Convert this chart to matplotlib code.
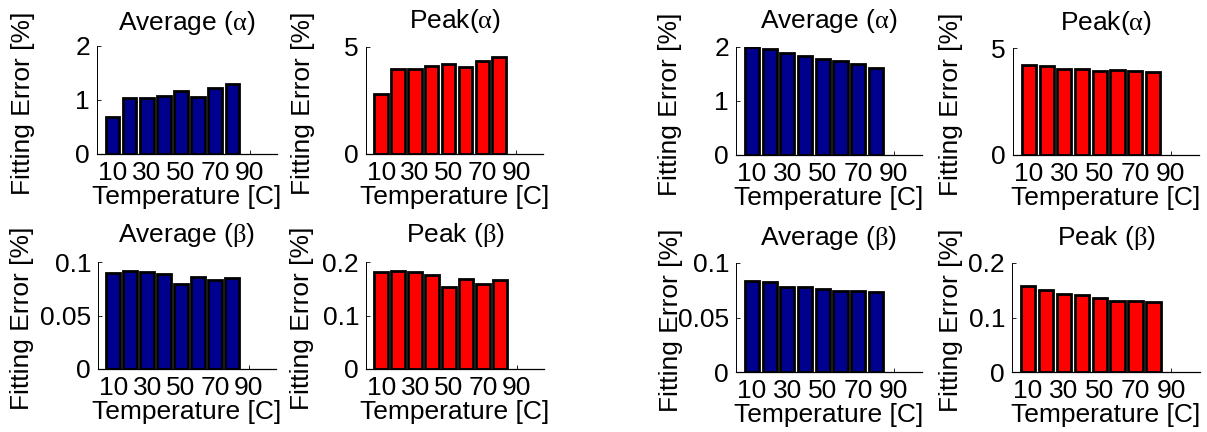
import matplotlib
matplotlib.use('Agg')
import matplotlib.pyplot as plt

# Temperatures of the bars and x tick labels
temperatures = [10, 20, 30, 40, 50, 60, 70, 80]
xtick_values = [10, 30, 50, 70, 90]

# Left group of panels
left_avg_alpha = [0.68, 1.04, 1.04, 1.08, 1.16, 1.06, 1.22, 1.29]
left_peak_alpha = [2.80, 3.99, 3.99, 4.10, 4.19, 4.06, 4.33, 4.54]
left_avg_beta = [0.0897, 0.0913, 0.0903, 0.0885, 0.0794, 0.0860, 0.0832, 0.0850]
left_peak_beta = [0.181, 0.183, 0.181, 0.176, 0.153, 0.168, 0.158, 0.166]

# Right group of panels
right_avg_alpha = [2.00, 1.96, 1.89, 1.83, 1.77, 1.75, 1.69, 1.62]
right_peak_alpha = [4.20, 4.15, 4.02, 4.01, 3.92, 3.96, 3.92, 3.87]
right_avg_beta = [0.0838, 0.0823, 0.0780, 0.0780, 0.0761, 0.0743, 0.0743, 0.0734]
right_peak_beta = [0.157, 0.151, 0.144, 0.141, 0.136, 0.131, 0.131, 0.128]

BLUE = '#00008f'
RED = '#ff0000'
FS = 19

W, H = 1207, 432

plt.rcParams['font.family'] = ['Liberation Sans', 'DejaVu Sans']
plt.rcParams['font.size'] = FS
plt.rcParams['mathtext.fontset'] = 'custom'
plt.rcParams['mathtext.rm'] = 'Liberation Sans'
plt.rcParams['mathtext.it'] = 'Liberation Serif'


# Draw one bar panel; box gives pixel (left, right, top, bottom)
def draw_panel(fig, box, values, color, title, yticks, ylabel_x, title_px):
    l, r, t, b = box
    ax = fig.add_axes([l / W, 1 - b / H, (r - l) / W, (b - t) / H])
    ax.bar(temperatures, values, width=8, color=color, edgecolor='black', linewidth=2.0)
    ax.set_xlim(1, 106)
    ax.set_ylim(yticks[0], yticks[-1])
    ax.set_xticks(xtick_values)
    ax.set_xticklabels([str(v) for v in xtick_values])
    ax.set_yticks(yticks)
    ax.set_yticklabels([f'{v:g}' for v in yticks])
    ax.set_axisbelow(True)
    ax.tick_params(direction='in', length=3, width=0.6, labelsize=FS)
    ax.tick_params(axis='y', pad=5)
    ax.tick_params(axis='x', pad=5)
    ax.spines['top'].set_visible(False)
    ax.spines['right'].set_visible(False)
    ax.spines['left'].set_linewidth(0.7)
    ax.spines['bottom'].set_linewidth(0.9)
    ax.set_title(title, fontsize=FS, pad=title_px * 0.72)
    ax.set_xlabel('Temperature [C]', fontsize=FS, labelpad=0)
    # y label sits at a fixed spot, like the original figure
    yc = (t + b) / 2 + 3
    fig.text(ylabel_x / W, 1 - yc / H, 'Fitting Error [%]', rotation=90,
             ha='center', va='center', fontsize=FS)
    return ax


def main():
    fig = plt.figure(figsize=(W / 100, H / 100), dpi=100)

    draw_panel(fig, (97, 277, 46, 154), left_avg_alpha, BLUE, r'Average ($\alpha$)', [0, 1, 2], 23, 16)
    draw_panel(fig, (366, 543, 47, 154), left_peak_alpha, RED, r'Peak($\alpha$)', [0, 5], 303, 19)
    draw_panel(fig, (98, 276, 262, 369), left_avg_beta, BLUE, r'Average ($\beta$)', [0, 0.05, 0.1], 22, 20)
    draw_panel(fig, (366, 544, 262, 369), left_peak_beta, RED, r'Peak ($\beta$)', [0, 0.1, 0.2], 302, 20)

    draw_panel(fig, (736, 922, 47, 155), right_avg_alpha, BLUE, r'Average ($\alpha$)', [0, 1, 2], 670, 19)
    draw_panel(fig, (1013, 1199, 48, 155), right_peak_alpha, RED, r'Peak($\alpha$)', [0, 5], 951, 18)
    draw_panel(fig, (736, 922, 263, 372), right_avg_beta, BLUE, r'Average ($\beta$)', [0, 0.05, 0.1], 671, 18)
    draw_panel(fig, (1012, 1200, 263, 372), right_peak_beta, RED, r'Peak ($\beta$)', [0, 0.1, 0.2], 951, 18)

    fig.savefig('out.png', dpi=100)


if __name__ == "__main__":
    main()
